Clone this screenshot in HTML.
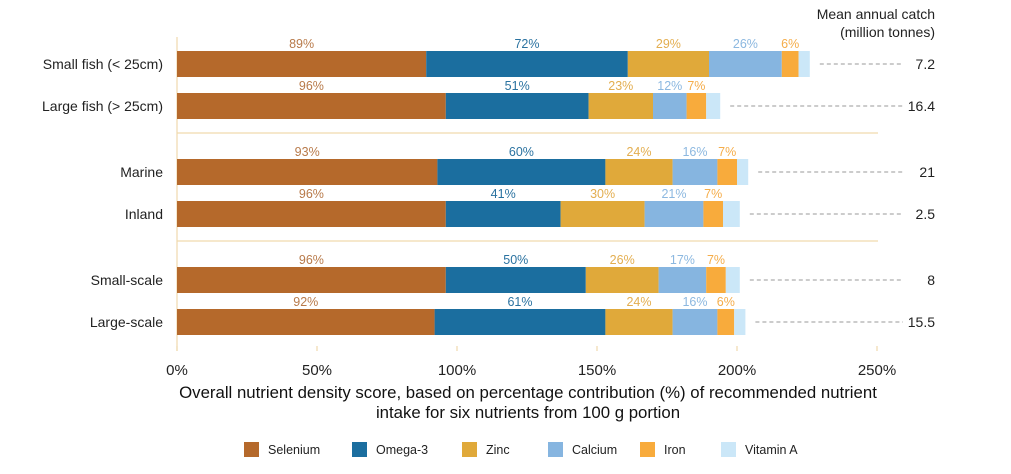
<!DOCTYPE html>
<html><head><meta charset="utf-8"><style>
body{margin:0;background:#fff;font-family:"Liberation Sans",sans-serif;}
svg text{font-family:"Liberation Sans",sans-serif;}
</style></head><body>
<svg width="1011" height="469" viewBox="0 0 1011 469" xmlns="http://www.w3.org/2000/svg" id="chart">
<text x="935" y="19" text-anchor="end" font-size="14" fill="#222">Mean annual catch</text>
<text x="935" y="37" text-anchor="end" font-size="14" fill="#222">(million tonnes)</text>
<g id="plot"></g>
</svg>
<script>
const categories=["Small fish (< 25cm)","Large fish (> 25cm)","Marine","Inland","Small-scale","Large-scale"];
const selenium=[89,96,93,96,96,92];
const omega3=[72,51,60,41,50,61];
const zinc=[29,23,24,30,26,24];
const calcium=[26,12,16,21,17,16];
const iron=[6,7,7,7,7,6];
const vitaminA=[4,5,4,6,5,4];
const catchValues=["7.2","16.4","21","2.5","8","15.5"];
const xTicks=[0,50,100,150,200,250];
const seriesNames=["Selenium","Omega-3","Zinc","Calcium","Iron","Vitamin A"];
const seriesData=[selenium,omega3,zinc,calcium,iron,vitaminA];
const colors=["#b5692b","#1b6e9f","#e0a93a","#86b5e0","#f8ab3c","#cbe7f8"];
const labelColors=["#b87a4a","#2a72a0","#e3ae50","#8cb8e0","#f5ad4a",null];
const NS="http://www.w3.org/2000/svg";
const g=document.getElementById('plot');
const x0=177,pxPer=2.8;
const xs=v=>x0+v*pxPer;
const rowY=[51,93,159,201,267,309];
const barH=26;
function mk(tag,attrs,parent){const e=document.createElementNS(NS,tag);for(const k in attrs)e.setAttribute(k,attrs[k]);(parent||g).appendChild(e);return e;}
let ax=mk('line',{x1:x0,y1:37,x2:x0,y2:351,stroke:'#f0d9ad','stroke-width':1.2});


[133,241].forEach((y,i)=>{let l=mk('line',{x1:x0,y1:y,x2:878,y2:y,stroke:'#f0d9ad','stroke-width':1.2});

});
xTicks.forEach(t=>{let l=mk('line',{x1:xs(t),y1:346,x2:xs(t),y2:351,stroke:'#f0d9ad','stroke-width':1.2});


let tx=mk('text',{x:xs(t),y:375,'text-anchor':'middle','font-size':15,fill:'#222'});tx.textContent=t+'%';

});
categories.forEach((c,i)=>{
 const y=rowY[i];
 let lt=mk('text',{x:163,y:y+barH/2+5,'text-anchor':'end','font-size':14,fill:'#222'});lt.textContent=c;
 
 
 let cum=0;
 seriesData.forEach((s,j)=>{
  const v=s[i];
  let r=mk('rect',{x:xs(cum),y:y,width:v*pxPer,height:barH,fill:colors[j]});
  
  
  if(labelColors[j]){let t=mk('text',{x:xs(cum+v/2),y:y-3,'text-anchor':'middle','font-size':12.5,fill:labelColors[j]});t.textContent=v+'%';
   
   }
  cum+=v;
 });
 let d=mk('line',{x1:xs(cum)+10,y1:y+barH/2,x2:903,y2:y+barH/2,stroke:'#999','stroke-width':1,'stroke-dasharray':'4,3'});
 
 
 let cv=mk('text',{x:935,y:y+barH/2+5,'text-anchor':'end','font-size':14,fill:'#222'});cv.textContent=catchValues[i];
 
 
});
let t1=mk('text',{x:528,y:398,'text-anchor':'middle','font-size':16.8,fill:'#111'});t1.textContent='Overall nutrient density score, based on percentage contribution (%) of recommended nutrient';


let t2=mk('text',{x:528,y:418,'text-anchor':'middle','font-size':16.8,fill:'#111'});t2.textContent='intake for six nutrients from 100 g portion';


const legX=[244,352,462,548,640,721];
seriesNames.forEach((n,j)=>{
 let r=mk('rect',{x:legX[j],y:442,width:15,height:15,fill:colors[j]});
 
 
 let t=mk('text',{x:legX[j]+24,y:454,'font-size':12.5,fill:'#222'});t.textContent=n;
 
 
});
</script>
</body></html>
